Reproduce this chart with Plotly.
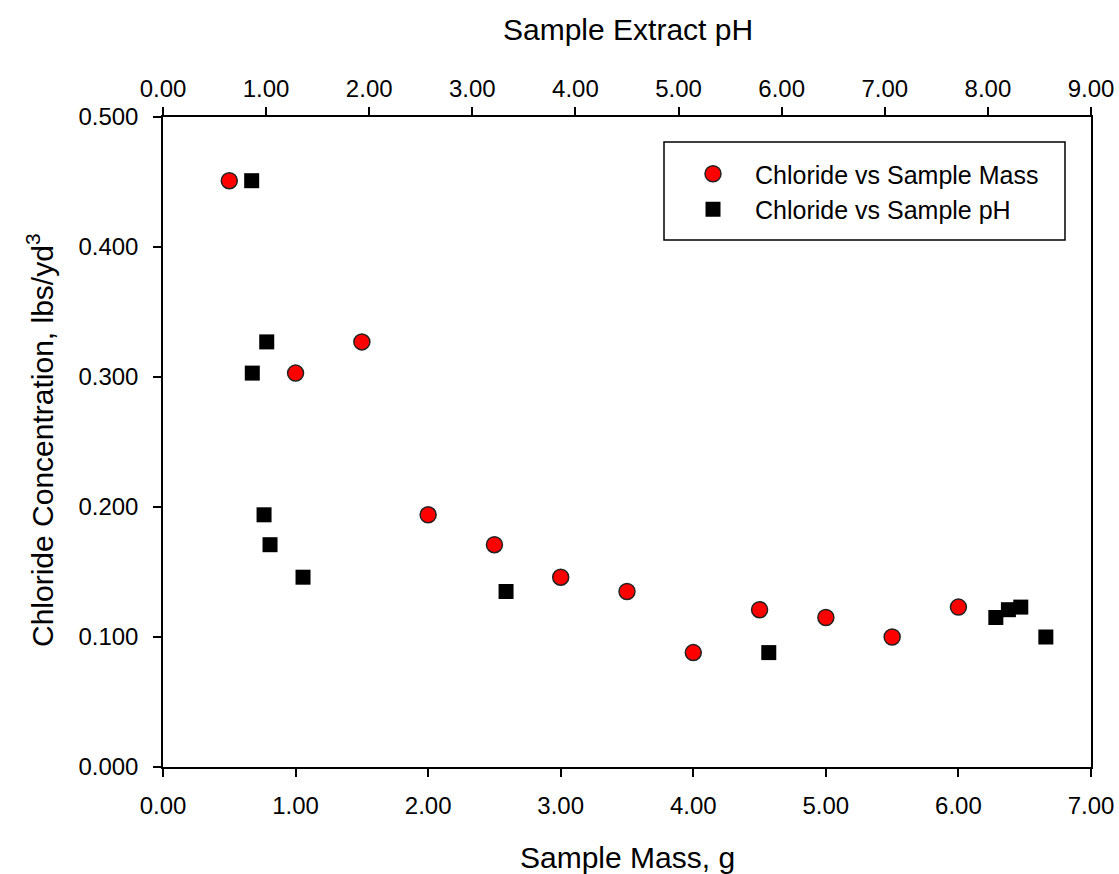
import plotly.graph_objects as go

# Data
mass_g = [0.5, 1.0, 1.5, 2.0, 2.5, 3.0, 3.5, 4.0, 4.5, 5.0, 5.5, 6.0]
chloride_mass = [0.451, 0.303, 0.327, 0.194, 0.171, 0.146, 0.135, 0.088, 0.121, 0.115, 0.100, 0.123]

ph = [0.86, 1.006, 0.866, 0.98, 1.038, 1.358, 3.327, 5.875, 8.077, 8.199, 8.319, 8.562]
chloride_ph = [0.451, 0.327, 0.303, 0.194, 0.171, 0.146, 0.135, 0.088, 0.115, 0.121, 0.123, 0.100]

x_ticks = [0, 1, 2, 3, 4, 5, 6, 7]
x2_ticks = [0, 1, 2, 3, 4, 5, 6, 7, 8, 9]
y_ticks = [0, 0.1, 0.2, 0.3, 0.4, 0.5]

FONT = "Liberation Sans, Arial, sans-serif"
W, H = 1119, 874
L, R, T, B = 163, 28, 117, 107
pw, phh = W - L - R, H - T - B

def px_x(p):  # page px -> paper
    return (p - L) / pw

def px_y(p):
    return (H - B - p) / phh

fig = go.Figure()
fig.add_trace(go.Scatter(
    x=mass_g, y=chloride_mass, mode="markers", name="Chloride vs Sample Mass",
    marker=dict(symbol="circle", size=16, color="#ff0000", line=dict(color="#222222", width=1.5)),
    xaxis="x", yaxis="y",
))
fig.add_trace(go.Scatter(
    x=ph, y=chloride_ph, mode="markers", name="Chloride vs Sample pH",
    marker=dict(symbol="square", size=15, color="#000000", line=dict(color="#000000", width=0)),
    xaxis="x2", yaxis="y",
))

axis_common = dict(
    showgrid=False, zeroline=False, showline=True, linecolor="black", linewidth=1.5,
    ticks="outside", ticklen=8, tickwidth=1.5, tickcolor="black",
    tickfont=dict(family=FONT, size=24, color="black"),
)

fig.update_layout(
    width=W, height=H,
    margin=dict(l=L, r=R, t=T, b=B, autoexpand=False),
    paper_bgcolor="white", plot_bgcolor="white",
    showlegend=True,
    xaxis=dict(range=[0, 7], tickvals=x_ticks, tickformat=".2f", side="bottom",
               ticklabelstandoff=8, **axis_common),
    xaxis2=dict(range=[0, 9], tickvals=x2_ticks, tickformat=".2f", side="top",
                overlaying="x", anchor="y", ticklabelstandoff=1, **axis_common),
    yaxis=dict(range=[0, 0.5], tickvals=y_ticks, tickformat=".3f", mirror=True,
               ticklabelstandoff=10, **axis_common),
    legend=dict(
        x=px_x(671), y=px_y(151), xanchor="left", yanchor="top",
        bgcolor="rgba(0,0,0,0)", borderwidth=0,
        font=dict(family=FONT, size=25, color="black"),
        tracegroupgap=0, itemsizing="trace", itemwidth=74,
    ),
    shapes=[dict(type="rect", xref="paper", yref="paper",
                 x0=px_x(664), x1=px_x(1065), y0=px_y(240), y1=px_y(142),
                 line=dict(color="black", width=1.5), fillcolor="rgba(0,0,0,0)")],
    annotations=[
        dict(text="Sample Mass, g", xref="paper", yref="paper", x=px_x(627), y=px_y(857),
             showarrow=False, xanchor="center", yanchor="middle",
             font=dict(family=FONT, size=30, color="black")),
        dict(text="Sample Extract pH", xref="paper", yref="paper", x=px_x(628), y=px_y(30),
             showarrow=False, xanchor="center", yanchor="middle",
             font=dict(family=FONT, size=30, color="black")),
        dict(text="Chloride Concentration, lbs/yd<sup>3</sup>", xref="paper", yref="paper",
             x=px_x(40), y=px_y(440), textangle=-90,
             showarrow=False, xanchor="center", yanchor="middle",
             font=dict(family=FONT, size=30, color="black")),
    ],
)

fig.write_html("out.html", config={"displayModeBar": False},
               post_script="document.body.style.margin='0';document.body.style.overflow='hidden';")
